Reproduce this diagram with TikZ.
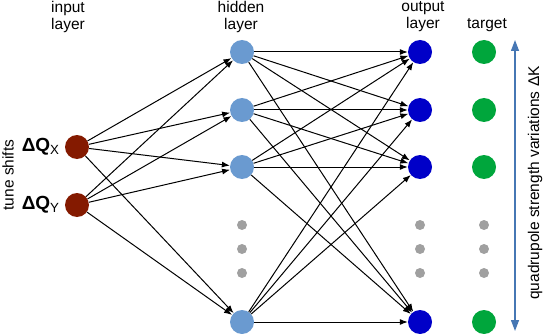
\documentclass[tikz,border=0pt]{standalone}
\usepackage{fontspec}
\setmainfont{Liberation Sans}
\usetikzlibrary{positioning, arrows.meta}
\definecolor{inred}{HTML}{841A00}
\definecolor{hidblue}{HTML}{6A9AD0}
\definecolor{outblue}{HTML}{0000C8}
\definecolor{tgtgreen}{HTML}{00A63C}
\definecolor{dotgray}{HTML}{A0A0A0}
\definecolor{rangeblue}{HTML}{4677B4}
\tikzset{
  neuron/.style={circle, minimum size=24pt, inner sep=0pt},
  inneuron/.style={neuron, fill=inred},
  hidneuron/.style={neuron, fill=hidblue},
  outneuron/.style={neuron, fill=outblue},
  tgtneuron/.style={neuron, fill=tgtgreen},
  gapdot/.style={circle, fill=dotgray, minimum size=10pt, inner sep=0pt},
  wire/.style={-{Latex[length=8pt, width=6pt]}, line width=1pt, black},
  head/.style={align=center, font=\fontsize{15.5}{17}\selectfont, inner sep=0pt},
  qlbl/.style={font=\fontsize{19}{19}\selectfont\bfseries, inner sep=0pt},
}
\begin{document}
\begin{tikzpicture}[x=1pt, y=-1pt]
  \useasboundingbox (0,0) rectangle (543,334);
  % input layer
  \node[inneuron] (inX) at (77,147) {};
  \node[inneuron] (inY) at (77,205) {};
  \node[qlbl, left=5pt of inX] (lblX) {ΔQ\textsubscript{\mdseries X}};
  \node[qlbl, left=5pt of inY] (lblY) {ΔQ\textsubscript{\mdseries Y}};
  \node[rotate=90, font=\fontsize{15.5}{17}\selectfont, inner sep=0pt] (tune) at (8,175) {tune shifts};
  % hidden, output and target columns
  \foreach \i/\yy in {1/52, 2/110, 3/167, 4/322} {
    \node[hidneuron] (h\i) at (242,\yy) {};
    \node[outneuron] (o\i) at (420,\yy) {};
    \node[tgtneuron] (t\i) at (484,\yy) {};
  }
  % gaps
  \foreach \col/\xx in {h/242, o/420, t/484}
    \foreach \j/\yy in {1/225, 2/249, 3/273}
      \node[gapdot] (g\col\j) at (\xx,\yy) {};
  % connections
  \foreach \a in {inX, inY}
    \foreach \b in {1,...,4}
      \draw[wire] (\a) -- (h\b);
  \foreach \a in {1,...,4}
    \foreach \b in {1,...,4}
      \draw[wire] (h\a) -- (o\b);
  % headings
  \node[head] (hin) at (68,17) {input\\layer};
  \node[head] (hhid) at (241,17) {hidden\\layer};
  \node[head] (hout) at (423,17) {output\\layer};
  \node[head, anchor=base] (htgt) at (487,29) {target};
  % range arrow
  \coordinate (rtop) at (515,40);
  \coordinate (rbot) at (515,331);
  \draw[{Triangle[length=11pt, width=8pt]}-{Triangle[length=11pt, width=8pt]}, line width=1.3pt, rangeblue] (rtop) -- (rbot);
  \node[rotate=90, font=\fontsize{15.5}{17}\selectfont, inner sep=0pt] (dk) at (535,183) {quadrupole strength variations ΔK};
\end{tikzpicture}
\end{document}
